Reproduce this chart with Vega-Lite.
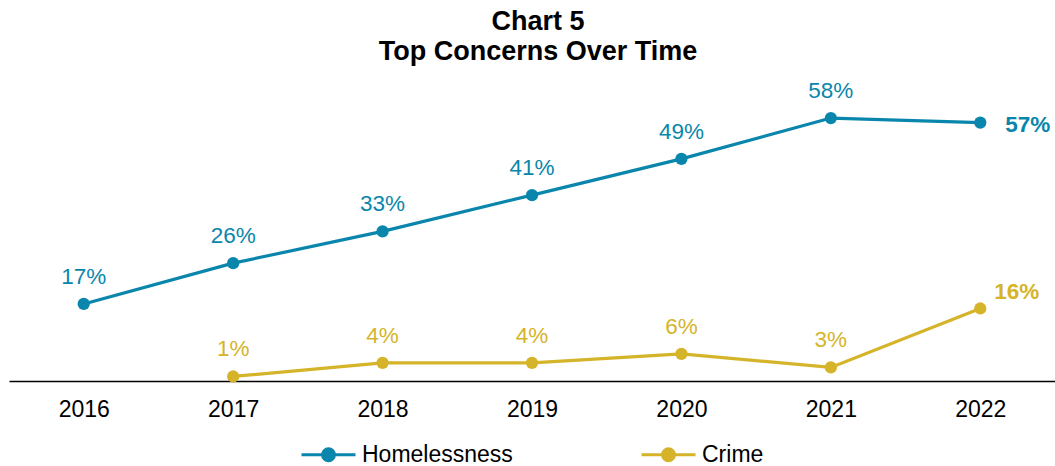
{
  "$schema": "https://vega.github.io/schema/vega-lite/v6.json",
  "autosize": "none",
  "width": 1046,
  "height": 272,
  "padding": {"left": 9, "top": 109, "right": 0, "bottom": 85},
  "background": "white",
  "config": {"view": {"stroke": null}, "font": "Liberation Sans"},
  "title": {
    "text": ["Chart 5", "Top Concerns Over Time"],
    "fontSize": 27,
    "fontWeight": "bold",
    "color": "black",
    "font": "Liberation Sans",
    "anchor": "middle",
    "offset": 14,
    "dx": 6,
    "lineHeight": 30
  },
  "data": {
    "values": [
      {"year": "2016", "series": "Homelessness", "value": 0.17},
      {"year": "2017", "series": "Homelessness", "value": 0.26},
      {"year": "2018", "series": "Homelessness", "value": 0.33},
      {"year": "2019", "series": "Homelessness", "value": 0.41},
      {"year": "2020", "series": "Homelessness", "value": 0.49},
      {"year": "2021", "series": "Homelessness", "value": 0.58},
      {"year": "2022", "series": "Homelessness", "value": 0.57},
      {"year": "2017", "series": "Crime", "value": 0.01},
      {"year": "2018", "series": "Crime", "value": 0.04},
      {"year": "2019", "series": "Crime", "value": 0.04},
      {"year": "2020", "series": "Crime", "value": 0.06},
      {"year": "2021", "series": "Crime", "value": 0.03},
      {"year": "2022", "series": "Crime", "value": 0.16}
    ]
  },
  "encoding": {
    "x": {
      "field": "year",
      "type": "ordinal",
      "scale": {"type": "point", "padding": 0.5},
      "axis": {
        "title": null,
        "labelAngle": 0,
        "labelFontSize": 23,
        "labelColor": "black",
        "labelPadding": 17,
        "ticks": false,
        "domainColor": "black",
        "domainWidth": 1.5,
        "grid": false
      }
    },
    "y": {
      "field": "value",
      "type": "quantitative",
      "scale": {"domain": [0, 0.6], "nice": false},
      "axis": null
    },
    "color": {
      "field": "series",
      "type": "nominal",
      "scale": {"domain": ["Homelessness", "Crime"], "range": ["#0A86AC", "#D5B42A"]},
      "legend": {
        "title": null,
        "orient": "none",
        "legendX": 291,
        "legendY": 317,
        "direction": "horizontal",
        "labelFontSize": 23,
        "labelColor": "black",
        "labelOffset": 5,
        "columnPadding": 122,
        "symbolType": "M-1,0L1,0M-0.22,0A0.22,0.22,0,1,1,0.22,0A0.22,0.22,0,1,1,-0.22,0Z",
        "symbolSize": 2916,
        "symbolStrokeWidth": 3,
        "symbolOpacity": 1
      }
    }
  },
  "layer": [
    {
      "mark": {"type": "line", "strokeWidth": 3.2, "point": {"filled": true, "size": 150, "opacity": 1}}
    },
    {
      "transform": [{"filter": "datum.year != '2022'"}],
      "mark": {"type": "text", "fontSize": 22.5, "baseline": "alphabetic", "dy": -20},
      "encoding": {"text": {"field": "value", "type": "quantitative", "format": ".0%"}}
    },
    {
      "transform": [{"filter": "datum.year == '2022' && datum.series == 'Homelessness'"}],
      "mark": {"type": "text", "fontSize": 22.5, "fontWeight": "bold", "baseline": "middle", "align": "left", "dx": 25, "dy": 2},
      "encoding": {"text": {"field": "value", "type": "quantitative", "format": ".0%"}}
    },
    {
      "transform": [{"filter": "datum.year == '2022' && datum.series == 'Crime'"}],
      "mark": {"type": "text", "fontSize": 22.5, "fontWeight": "bold", "baseline": "middle", "align": "left", "dx": 14, "dy": -16},
      "encoding": {"text": {"field": "value", "type": "quantitative", "format": ".0%"}}
    }
  ]
}
